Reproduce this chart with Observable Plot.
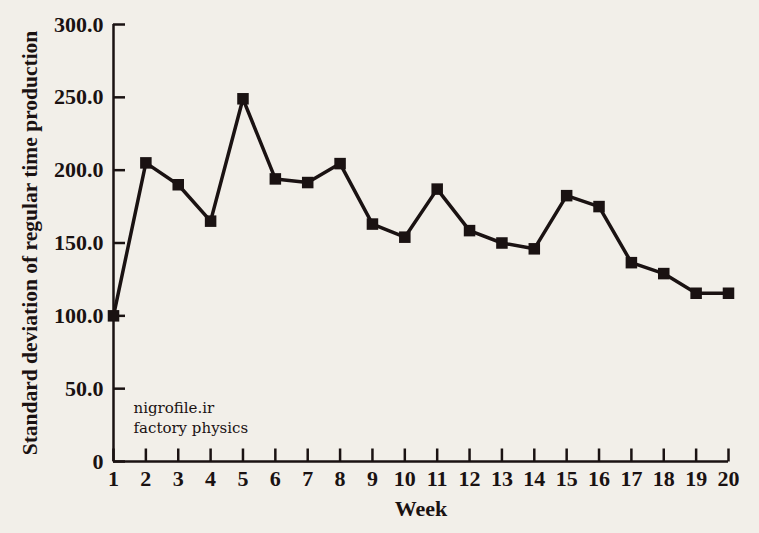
<!DOCTYPE html>
<html>
<head>
<meta charset="utf-8">
<script src="https://cdn.jsdelivr.net/npm/d3@7"></script>
<script src="https://cdn.jsdelivr.net/npm/@observablehq/plot@0.6"></script>
<style>
  html, body { margin: 0; padding: 0; background: #f2efe9; }
  #chart svg { display: block; }
</style>
</head>
<body>
<div id="chart"></div>
<script>
const weeks = [1,2,3,4,5,6,7,8,9,10,11,12,13,14,15,16,17,18,19,20];
const stdDev = [100,205,190,165,249,194,191.5,204.5,163,154,187,158.5,150,146,182.5,175,136.5,129,115.5,115.5];
const yTicks = [0,50,100,150,200,250,300];
const watermark = ["nigrofile.ir", "factory physics"];

const data = weeks.map((w, i) => ({week: w, sd: stdDev[i]}));
const tickRows = weeks.map(w => ({week: w, base: 0}));
const ink = "#1a1212";
const tickUp = {draw(context) { context.moveTo(0, 0); context.lineTo(0, -13); }};

const chart = Plot.plot({
  width: 759,
  height: 533,
  marginLeft: 113,
  marginRight: 31,
  marginTop: 24,
  marginBottom: 72,
  style: {background: "#f2efe9", fontFamily: "'Liberation Serif', 'Times New Roman', serif", fontWeight: "bold", color: ink},
  x: {domain: [1, 20]},
  y: {domain: [0, 300]},
  marks: [
    Plot.axisX({ticks: weeks, tickSize: 0, tickPadding: 9, tickFormat: d => String(d), fontSize: 22, label: null}),
    Plot.dot(tickRows, {x: "week", y: "base", symbol: tickUp, r: 6, stroke: ink, strokeWidth: 2.5, fill: "none"}),
    Plot.axisY({ticks: yTicks, tickSize: -12, tickPadding: 22, tickFormat: d => d === 0 ? "0" : d.toFixed(1), fontSize: 22, stroke: ink, strokeWidth: 2.5, label: null}),
    Plot.ruleY([0], {stroke: ink, strokeWidth: 2.5}),
    Plot.ruleX([1], {stroke: ink, strokeWidth: 2.5}),
    Plot.line(data, {x: "week", y: "sd", stroke: ink, strokeWidth: 3.5}),
    Plot.dot(data, {x: "week", y: "sd", symbol: "square", r: 6.5, fill: ink, stroke: "none"}),
    Plot.text(["Week"], {frameAnchor: "bottom", dx: 0, dy: 54, fontSize: 22, fill: ink}),
    Plot.text(["Standard deviation of regular time production"], {frameAnchor: "left", rotate: -90, textAnchor: "middle", dx: -83, fontSize: 21.5, fill: ink}),
    Plot.text([watermark.join("\n")], {frameAnchor: "bottom-left", dx: 20, dy: -29, lineHeight: 1.33, textAnchor: "start", fontSize: 15, fontWeight: "normal", fontFamily: "'DejaVu Serif', serif", fill: ink})
  ]
});
document.getElementById("chart").appendChild(chart);
</script>
</body>
</html>
